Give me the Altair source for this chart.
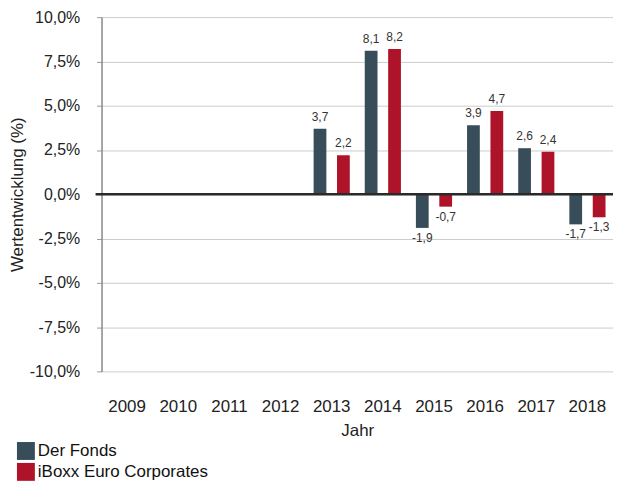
import altair as alt
import pandas as pd

years = ["2009", "2010", "2011", "2012", "2013", "2014", "2015", "2016", "2017", "2018"]
data_years = ["2013", "2014", "2015", "2016", "2017", "2018"]
fonds = [3.7, 8.1, -1.9, 3.9, 2.6, -1.7]
iboxx = [2.2, 8.2, -0.7, 4.7, 2.4, -1.3]
series = ["Der Fonds", "iBoxx Euro Corporates"]
colors = ["#374d5a", "#af1329"]

rows = []
for y, a, b in zip(data_years, fonds, iboxx):
    rows.append({"Jahr": y, "Serie": series[0], "Wert": a})
    rows.append({"Jahr": y, "Serie": series[1], "Wert": b})
df = pd.DataFrame(rows)

FONT = "Liberation Sans"
LAB = "replace(replace(format(datum.Wert, '.1f'), '.', ','), '\u2212', '-')"

x_scale = alt.Scale(domain=years, paddingInner=0, paddingOuter=0)
x_enc = alt.X("Jahr:N", scale=x_scale,
              axis=alt.Axis(title="Jahr", labelAngle=0, ticks=False, domain=False, grid=False,
                            labelPadding=27, labelFontSize=17, titleFontSize=17,
                            labelColor="#222", titleColor="#222", titlePadding=8,
                            titleFontWeight="normal"))
xo_enc = alt.XOffset("Serie:N", scale=alt.Scale(domain=series, paddingInner=0.455, paddingOuter=0.32))
y_scale = alt.Scale(domain=[-10, 10], nice=False)

bars = alt.Chart(df).mark_bar().encode(
    x=x_enc,
    xOffset=xo_enc,
    y=alt.Y("Wert:Q", scale=y_scale,
            axis=alt.Axis(title="Wertentwicklung (%)", values=[-10, -7.5, -5, -2.5, 0, 2.5, 5, 7.5, 10],
                          labelExpr="replace(replace(format(datum.value, '.1f'), '.', ','), '\u2212', '-') + '%'",
                          tickSize=5, tickColor="#999", domainColor="#888", domainWidth=1.5,
                          gridColor="#cccccc", gridWidth=1, labelPadding=17,
                          labelFontSize=16, titleFontSize=17, labelColor="#222", titleColor="#222",
                          titleFontWeight="normal", titlePadding=3)),
    color=alt.Color("Serie:N", scale=alt.Scale(domain=series, range=colors),
                    legend=alt.Legend(title=None, orient="none", legendX=-85, legendY=427,
                                      symbolType="square", symbolSize=324, symbolStrokeWidth=0,
                                      labelFontSize=17, labelColor="#111", labelOffset=3,
                                      labelLimit=400, rowPadding=3, labelFont=FONT, padding=0)),
)

pos = alt.Chart(df).transform_filter("datum.Wert >= 0").transform_calculate(
    lab=LAB
).mark_text(baseline="bottom", dy=-5, fontSize=12, color="#333", font=FONT).encode(
    x=alt.X("Jahr:N", scale=x_scale),
    xOffset=xo_enc,
    y=alt.Y("Wert:Q", scale=y_scale),
    text="lab:N",
)
neg = alt.Chart(df).transform_filter("datum.Wert < 0").transform_calculate(
    lab=LAB
).mark_text(baseline="top", dy=5, fontSize=12, color="#333", font=FONT).encode(
    x=alt.X("Jahr:N", scale=x_scale),
    xOffset=xo_enc,
    y=alt.Y("Wert:Q", scale=y_scale),
    text="lab:N",
)

zero = alt.Chart(pd.DataFrame({"z": [0]})).mark_rule(color="#2a2a2a", strokeWidth=2.5).encode(
    y=alt.Y("z:Q", scale=y_scale),
    x=alt.value(-6),
    x2=alt.value(514),
)

chart = alt.layer(bars, zero, pos, neg).properties(
    width=514, height=356,
    autosize=alt.AutoSizeParams(type="none"),
    padding={"left": 94, "top": 8, "right": 0, "bottom": 112},
).configure(font=FONT).configure_view(stroke=None)

chart.save("out.html", embed_options={"renderer": "svg", "actions": False})
